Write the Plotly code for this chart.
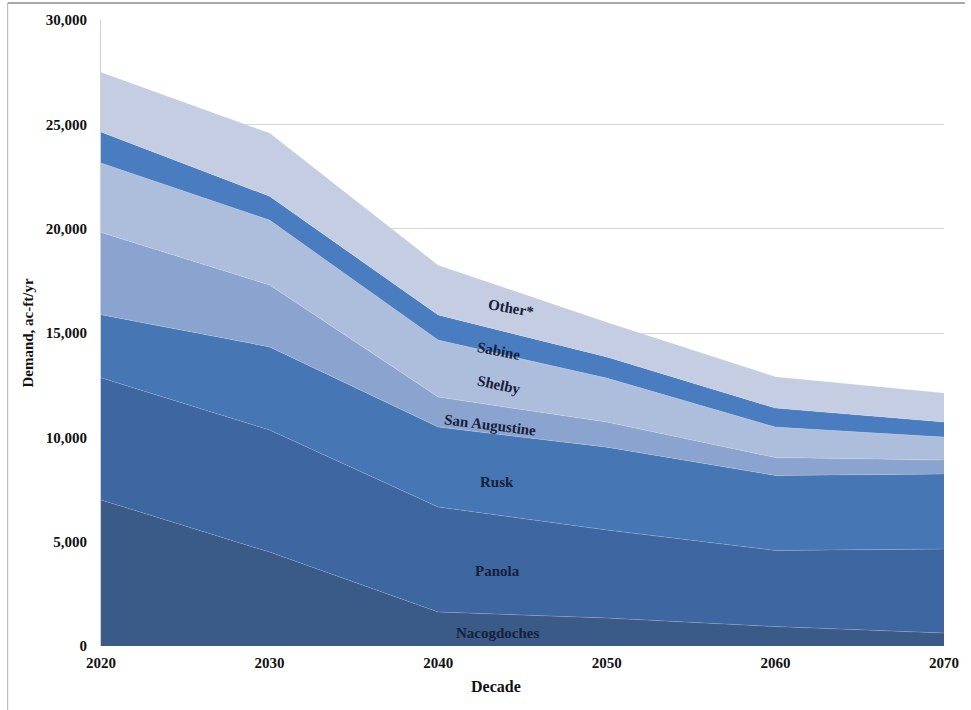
import plotly.graph_objects as go

# Projected demand by county, acre-feet per year
decades = [2020, 2030, 2040, 2050, 2060, 2070]

nacogdoches = [7000, 4500, 1630, 1340, 930, 620]
panola = [5850, 5850, 5030, 4220, 3650, 4030]
rusk = [3030, 3980, 3830, 3970, 3590, 3590]
san_augustine = [3940, 2970, 1440, 1200, 860, 670]
shelby = [3330, 3110, 2730, 2110, 1460, 1100]
sabine = [1480, 1140, 1200, 1010, 910, 720]
other = [2870, 3030, 2390, 1670, 1500, 1390]

y_ticks = [0, 5000, 10000, 15000, 20000, 25000, 30000]

series = [
    ("Nacogdoches", nacogdoches, "#3A5A87"),
    ("Panola", panola, "#3E66A0"),
    ("Rusk", rusk, "#4676B3"),
    ("San Augustine", san_augustine, "#8BA4CF"),
    ("Shelby", shelby, "#ADBDDC"),
    ("Sabine", sabine, "#4A7DC0"),
    ("Other*", other, "#C4CDE2"),
]

SERIF = "Liberation Serif, Times New Roman, serif"

fig = go.Figure()
for name, vals, color in series:
    fig.add_trace(go.Scatter(
        x=decades, y=vals, name=name, mode="lines",
        stackgroup="demand", fillcolor=color,
        line=dict(width=0.6, color="rgba(255,255,255,0.25)"),
        hoverinfo="x+y+name",
    ))

# In-area series labels: (text, x, y, angle)
labels = [
    ("Other*", 2044.3, 16200, 10),
    ("Sabine", 2043.6, 14150, 11),
    ("Shelby", 2043.6, 12500, 12),
    ("San Augustine", 2043.1, 10580, 7),
    ("Rusk", 2043.5, 7850, 0),
    ("Panola", 2043.5, 3580, 0),
    ("Nacogdoches", 2043.5, 640, 0),
]
for text, lx, ly, ang in labels:
    fig.add_annotation(
        x=lx, y=ly, text=text, showarrow=False, textangle=ang,
        font=dict(family=SERIF, size=15, color="#16203A", weight="bold"),
    )

fig.add_annotation(
    xref="paper", yref="paper", x=(499 - 101) / 849, y=(646 - 687) / 626,
    xanchor="center", yanchor="middle",
    text="Decade", showarrow=False,
    font=dict(family=SERIF, size=16, color="#111111", weight="bold"),
)

# Outer chart frame (top and left edges)
fig.add_shape(type="line", xref="paper", yref="paper",
              x0=(7 - 101) / 849, x1=(971 - 101) / 849,
              y0=(646 - 3) / 626, y1=(646 - 3) / 626,
              line=dict(color="#8C8C8C", width=1.5))
fig.add_shape(type="line", xref="paper", yref="paper",
              x0=(7 - 101) / 849, x1=(7 - 101) / 849,
              y0=(646 - 3) / 626, y1=(646 - 712) / 626,
              line=dict(color="#B5B5B5", width=1))

fig.update_layout(
    width=971, height=710,
    margin=dict(l=101, r=21, t=20, b=64),
    paper_bgcolor="white", plot_bgcolor="white",
    showlegend=False,
    font=dict(family=SERIF, color="#111111"),
)
fig.update_xaxes(
    range=[2020, 2070], tickvals=decades,
    ticktext=[str(d) for d in decades],
    tickfont=dict(family=SERIF, size=15, color="#111111", weight="bold"),
    showgrid=False, zeroline=False, showline=False, ticks="",
    ticklabelstandoff=6,
)
fig.update_yaxes(
    range=[0, 30000], tickvals=y_ticks,
    ticktext=[f"{v:,}" for v in y_ticks],
    tickfont=dict(family=SERIF, size=15, color="#111111", weight="bold"),
    showgrid=True, gridcolor="#D6D6D6", gridwidth=1,
    zeroline=False, showline=True, linecolor="#D0D0D0", linewidth=1,
    ticks="", ticklabelstandoff=10,
    title=dict(text="Demand, ac-ft/yr", standoff=8,
               font=dict(family=SERIF, size=15, color="#111111", weight="bold")),
)

fig.write_html("out.html")
